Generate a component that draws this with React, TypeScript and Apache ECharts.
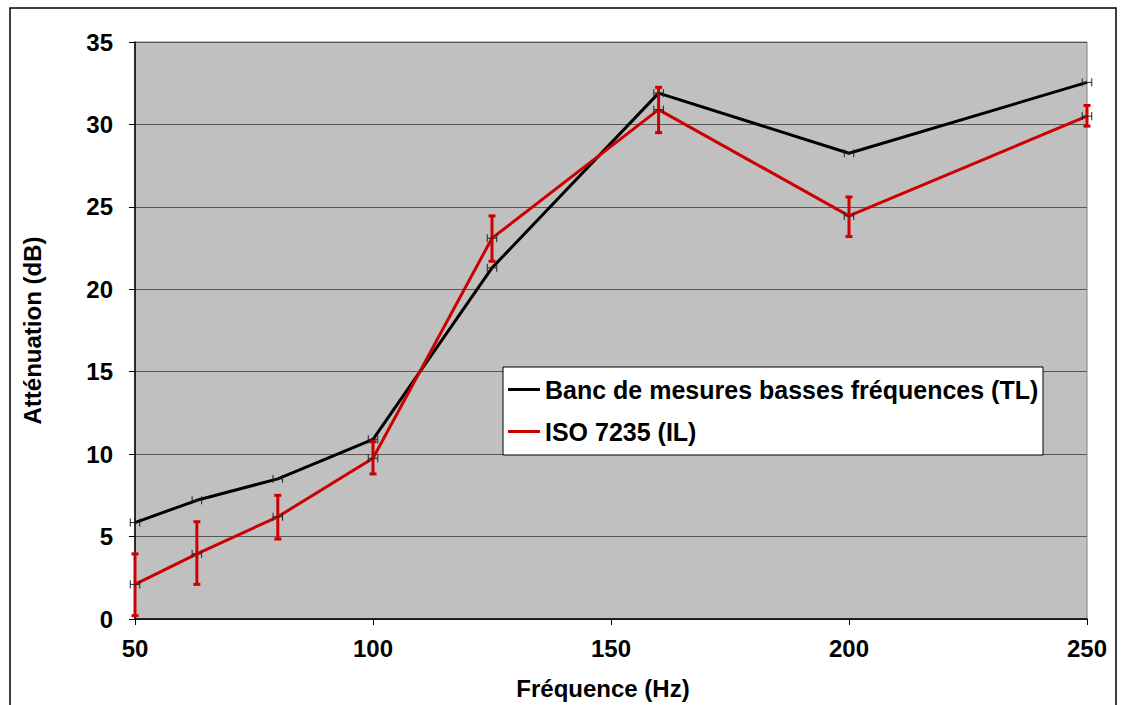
import React, { useEffect, useRef } from "react";
import * as echarts from "echarts";

const freqs = [50, 63, 80, 100, 125, 160, 200, 250];
const bancTL = [5.85, 7.2, 8.5, 10.9, 21.3, 31.9, 28.25, 32.55];
const isoIL = [2.1, 3.95, 6.2, 9.75, 23.1, 30.9, 24.45, 30.5];
const isoLow = [0.2, 2.1, 4.85, 8.8, 21.7, 29.5, 23.2, 29.9];
const isoHigh = [3.95, 5.9, 7.5, 10.75, 24.45, 32.25, 25.6, 31.15];
const hErrHz = [1, 1, 1, 1, 1, 1, 1, 1];
const xTicks = { min: 50, max: 250, interval: 50 };
const yTicks = { min: 0, max: 35, interval: 5 };
const seriesNames = ["Banc de mesures basses fréquences (TL)", "ISO 7235 (IL)"];

const FONT = "'Liberation Sans', Arial, sans-serif";
const RED = "#CC0000";

export default function App() {
  const ref = useRef<HTMLDivElement>(null);
  useEffect(() => {
    if (!ref.current) return;
    const chart = echarts.init(ref.current, undefined, { renderer: "svg" });

    const vbar = (color: string, lw: number, capHalf: number) => (params: any, api: any) => {
      const x = api.value(0);
      const lo = api.coord([x, api.value(1)]);
      const hi = api.coord([x, api.value(2)]);
      const style = { stroke: color, lineWidth: lw };
      return {
        type: "group",
        children: [
          { type: "line", shape: { x1: lo[0], y1: lo[1], x2: hi[0], y2: hi[1] }, style },
          { type: "line", shape: { x1: lo[0] - capHalf, y1: lo[1], x2: lo[0] + capHalf, y2: lo[1] }, style },
          { type: "line", shape: { x1: hi[0] - capHalf, y1: hi[1], x2: hi[0] + capHalf, y2: hi[1] }, style },
        ],
      };
    };

    const hbar = (params: any, api: any) => {
      const x = api.value(0);
      const y = api.value(1);
      const e = api.value(2);
      const l = api.coord([x - e, y]);
      const r = api.coord([x + e, y]);
      const style = { stroke: "#222", lineWidth: 1 };
      return {
        type: "group",
        children: [
          { type: "line", shape: { x1: l[0], y1: l[1], x2: r[0], y2: r[1] }, style },
          { type: "line", shape: { x1: l[0], y1: l[1] - 4, x2: l[0], y2: l[1] + 4 }, style },
          { type: "line", shape: { x1: r[0], y1: r[1] - 4, x2: r[0], y2: r[1] + 4 }, style },
        ],
      };
    };

    const hData = [
      ...freqs.map((f, i) => [f, bancTL[i], hErrHz[i]]),
      ...freqs.map((f, i) => [f, isoIL[i], hErrHz[i]]),
    ];

    const axisText = { fontFamily: FONT, fontSize: 24, fontWeight: "bold", color: "#000" };

    chart.setOption({
      animation: false,
      textStyle: { fontFamily: FONT },
      grid: {
        left: 135,
        right: 43,
        top: 42,
        bottom: 85,
        show: true,
        backgroundColor: "#C0C0C0",
        borderColor: "#808080",
        borderWidth: 1,
      },
      graphic: [
        {
          type: "rect",
          shape: { x: 10, y: 8, width: 1106, height: 720 },
          style: { fill: "none", stroke: "#000", lineWidth: 1.5 },
          z: 100,
        },
        {
          type: "rect",
          shape: { x: 503, y: 367, width: 540, height: 88 },
          style: { fill: "#fff", stroke: "#000", lineWidth: 1 },
          z: 50,
        },
      ],
      legend: {
        left: 503,
        top: 372,
        orient: "vertical",
        itemGap: 17,
        itemWidth: 32,
        itemHeight: 3,
        icon: "rect",
        z: 60,
        data: seriesNames,
        textStyle: { fontFamily: FONT, fontSize: 25, fontWeight: "bold", color: "#000" },
      },
      xAxis: {
        type: "value",
        min: xTicks.min,
        max: xTicks.max,
        interval: xTicks.interval,
        name: "Fréquence (Hz)",
        nameLocation: "middle",
        nameGap: 57,
        nameTextStyle: { ...axisText, padding: [0, 16, 0, 0] },
        axisLine: { show: true, onZero: false, lineStyle: { color: "#000", width: 1.5 } },
        axisTick: { show: true, inside: false, length: 6, lineStyle: { color: "#000" } },
        axisLabel: { ...axisText, margin: 17 },
        splitLine: { show: false },
      },
      yAxis: {
        type: "value",
        min: yTicks.min,
        max: yTicks.max,
        interval: yTicks.interval,
        name: "Atténuation (dB)",
        nameLocation: "middle",
        nameGap: 91,
        nameTextStyle: axisText,
        axisLine: { show: true, lineStyle: { color: "#000", width: 1.5 } },
        axisTick: { show: true, inside: false, length: 6, lineStyle: { color: "#000" } },
        axisLabel: { ...axisText, margin: 22 },
        splitLine: { show: true, lineStyle: { color: "#555", width: 1 } },
      },
      series: [
        {
          name: seriesNames[0],
          type: "line",
          data: freqs.map((f, i) => [f, bancTL[i]]),
          symbol: "none",
          lineStyle: { color: "#000", width: 3 },
          itemStyle: { color: "#000" },
          z: 2,
        },
        {
          name: seriesNames[1],
          type: "line",
          data: freqs.map((f, i) => [f, isoIL[i]]),
          symbol: "none",
          lineStyle: { color: RED, width: 3 },
          itemStyle: { color: RED },
          z: 3,
        },
        {
          name: "ISO err",
          type: "custom",
          renderItem: vbar(RED, 3, 3.5),
          data: freqs.map((f, i) => [f, isoLow[i], isoHigh[i]]),
          encode: { x: 0, y: [1, 2] },
          clip: false,
          z: 4,
        },
        {
          name: "h err",
          type: "custom",
          renderItem: hbar,
          data: hData,
          encode: { x: 0, y: 1 },
          clip: false,
          z: 5,
        },
      ],
    });
    return () => chart.dispose();
  }, []);
  return (
    <div
      ref={ref}
      style={{ position: "fixed", left: 0, top: 0, width: 1130, height: 705, background: "#fff" }}
    />
  );
}
